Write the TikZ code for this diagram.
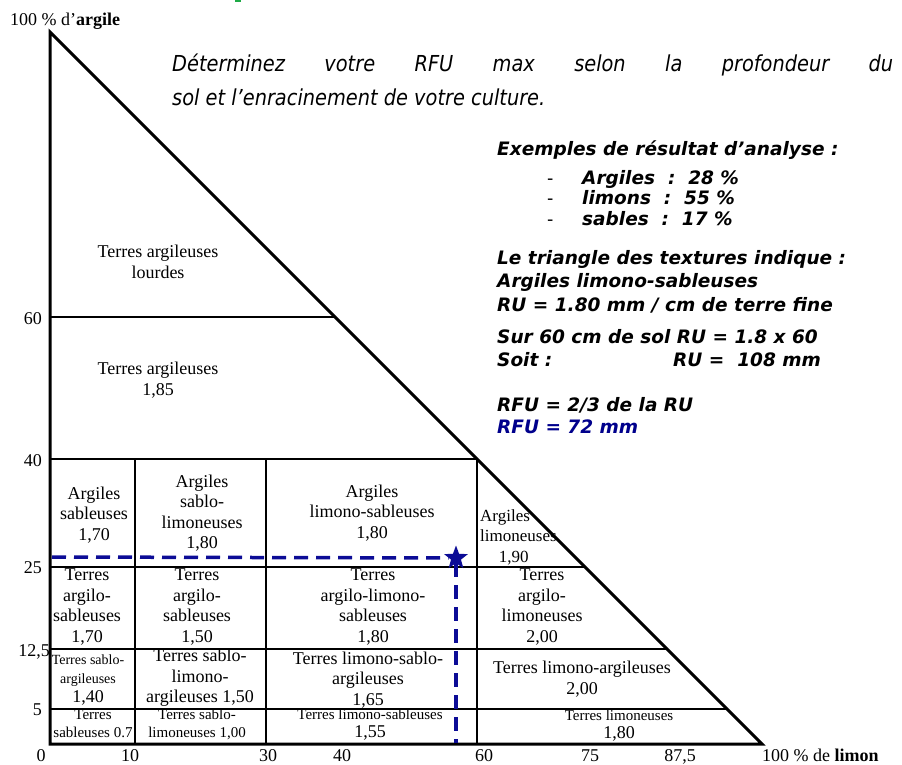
\documentclass[tikz,border=0pt]{standalone}
\usepackage{fontspec}
\setmainfont{Liberation Serif}
\newfontfamily\verdana{DejaVu Sans}
\newfontfamily\tahoma[FakeStretch=0.88]{DejaVu Sans}
\usetikzlibrary{shapes.geometric}
\definecolor{guideblue}{RGB}{12,12,150}
\definecolor{rfublue}{RGB}{0,0,140}
\definecolor{slidegreen}{RGB}{30,170,70}

\begin{document}
\begin{tikzpicture}
  [x=1pt,y=-1pt,every node/.style={inner sep=0pt},
   cell/.style={align=center,font=\fontsize{18}{20.5}\selectfont},
   smallcell/.style={align=center,font=\fontsize{15}{18}\selectfont},
   axislabel/.style={font=\fontsize{18}{20}\selectfont},
   info/.style={anchor=base west,font=\verdana\bfseries\itshape\fontsize{18.5}{21}\selectfont},
   frame/.style={line width=3pt,line join=miter},
   gridline/.style={line width=1.2pt},
   guide/.style={draw=guideblue,line width=3.5pt,dash pattern=on 14pt off 8pt}]
  \useasboundingbox (0,0) rectangle (902,765);
  \fill[slidegreen] (235,0) rectangle (241,2);

  % triangle
  \coordinate (top) at (50,32);
  \coordinate (origin) at (50,744);
  \coordinate (right) at (762,744);
  \foreach \y in {317,459,567,649,709}
    \draw[gridline] (50,\y) -- ({\y+18},\y);
  \foreach \x in {135,266,477}
    \draw[gridline] (\x,459) -- (\x,744);
  \draw[frame] (top) -- (origin) -- (right) -- cycle;

  % axes
  \node[axislabel,anchor=base west] (clay) at (10,26) {100 \% d'\textbf{argile}};
  \node[axislabel,anchor=base east] (c60) at (42,324) {60};
  \node[axislabel,anchor=base east] (c40) at (42,466) {40};
  \node[axislabel,anchor=base east] (c25) at (42,573) {25};
  \node[axislabel,anchor=base east] (c12) at (50,656) {12,5};
  \node[axislabel,anchor=base east] (c5) at (42,715) {5};
  \node[axislabel,anchor=base] (s0) at (41,761) {0};
  \node[axislabel,anchor=base] (s10) at (130,761) {10};
  \node[axislabel,anchor=base] (s30) at (268,761) {30};
  \node[axislabel,anchor=base] (s40) at (342,761) {40};
  \node[axislabel,anchor=base] (s60) at (484,761) {60};
  \node[axislabel,anchor=base] (s75) at (590,761) {75};
  \node[axislabel,anchor=base] (s87) at (680,761) {87,5};
  \node[axislabel,anchor=base west] (silt) at (762,761) {100 \% de \textbf{limon}};

  % classes
  \node[cell] (lourdes) at (158,262) {Terres argileuses\\lourdes};
  \node[cell] (argileuses) at (158,380) {Terres argileuses\\1,85};
  \node[cell] (argSab) at (94,515) {Argiles\\sableuses\\1,70};
  \node[cell] (argSabLim) at (202,513) {Argiles\\sablo-\\limoneuses\\1,80};
  \node[cell] (argLimSab) at (372,513) {Argiles\\limono-sableuses\\1,80};
  \node[cell,font=\fontsize{17}{20.5}\selectfont,align=left,anchor=west] (argLim) at (480,537) {Argiles\\limoneuses\\\hspace*{1.1em}1,90};
  \node[cell] (terArgSab) at (87,607) {Terres\\argilo-\\sableuses\\1,70};
  \node[cell] (terArgSabB) at (197,607) {Terres\\argilo-\\sableuses\\1,50};
  \node[cell] (terArgLimSab) at (373,607) {Terres\\argilo-limono-\\sableuses\\1,80};
  \node[cell] (terArgLim) at (542,607) {Terres\\argilo-\\limoneuses\\2,00};
  \node[smallcell,font=\fontsize{14}{19}\selectfont] (sabArg) at (88,680) {Terres sablo-\\argileuses\\{\fontsize{18}{18}\selectfont 1,40}};
  \node[cell] (sabLimArg) at (200,678) {Terres sablo-\\limono-\\argileuses 1,50};
  \node[cell] (limSabArg) at (368,680) {Terres limono-sablo-\\argileuses\\1,65};
  \node[cell] (limArg) at (582,679) {Terres limono-argileuses\\2,00};
  \node[smallcell] (sab) at (93,724) {Terres\\sableuses 0.7};
  \node[smallcell] (sabLim) at (197,724) {Terres sablo-\\limoneuses 1,00};
  \node[smallcell] (limSab) at (370,725) {Terres limono-sableuses\\{\fontsize{18}{18}\selectfont 1,55}};
  \node[smallcell] (lim) at (619,726) {Terres limoneuses\\{\fontsize{18}{18}\selectfont 1,80}};

  % reading of the example
  \node[star,star points=5,star point ratio=2.4,fill=guideblue,minimum size=25pt] (mark) at (456,558) {};
  \coordinate (markleft) at (52,557);
  \coordinate (markdown) at (456,743);
  \draw[guide] (markleft) -- (mark);
  \draw[guide] (mark) -- (markdown);

  % text
  \node[anchor=north west,text width=721pt,align=justify,font=\tahoma\itshape\fontsize{22}{34}\selectfont] (title) at (172,54)
    {Déterminez votre RFU max selon la profondeur du\linebreak sol et l’enracinement de votre culture.};
  \node[info] (ex) at (497,155) {Exemples de résultat d’analyse :};
  \node[info,font=\verdana\fontsize{17.5}{21}\selectfont] (d1) at (547,184) {-};
  \node[info,font=\verdana\fontsize{17.5}{21}\selectfont] (d2) at (547,204) {-};
  \node[info,font=\verdana\fontsize{17.5}{21}\selectfont] (d3) at (547,225) {-};
  \node[info] (clayv) at (582,184) {Argiles~~:~~28 \%};
  \node[info] (siltv) at (582,204) {limons~~:~~55 \%};
  \node[info] (sandv) at (582,225) {sables~~:~~17 \%};
  \node[info] (tri) at (497,264) {Le triangle des textures indique :};
  \node[info] (cls) at (497,287) {Argiles limono-sableuses};
  \node[info] (ru) at (497,311) {RU = 1.80 mm / cm de terre fine};
  \node[info] (sur) at (497,343) {Sur 60 cm de sol RU = 1.8 x 60};
  \node[info] (soit) at (497,366) {Soit :};
  \node[info] (ruv) at (673,366) {RU =~~108 mm};
  \node[info] (rfu) at (497,411) {RFU = 2/3 de la RU};
  \node[info,text=rfublue] (rfuv) at (497,433) {RFU = 72 mm};
\end{tikzpicture}
\end{document}
